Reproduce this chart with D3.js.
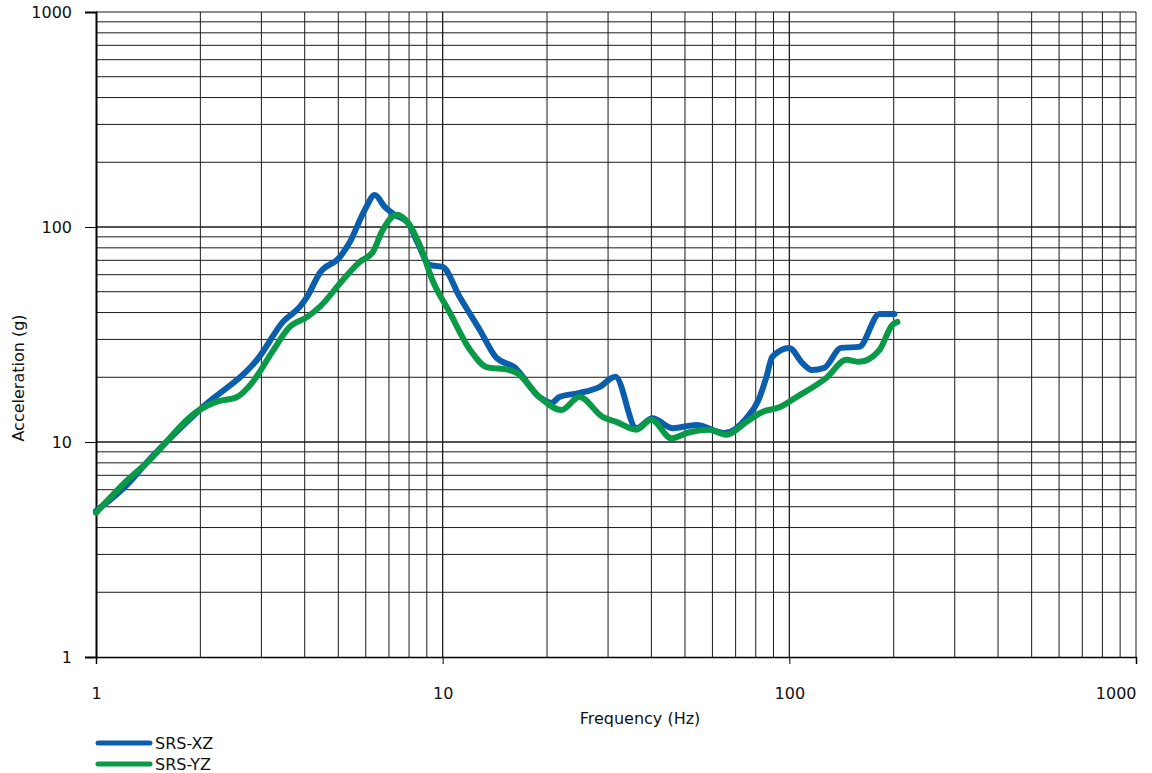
<!DOCTYPE html>
<html><head><meta charset="utf-8">
<script src="https://cdn.jsdelivr.net/npm/d3@7"></script>
<style>
html,body{margin:0;padding:0;background:#fff;}
text{font-family:"DejaVu Sans",sans-serif;fill:#111;}
</style></head>
<body>
<svg id="chart" width="1152" height="773"></svg>
<script>
const xTicks = [1, 10, 100, 1000];
const yTicks = [1, 10, 100, 1000];
const seriesNames = ["SRS-XZ", "SRS-YZ"];
const seriesColors = ["#0B5EAB", "#0A9A47"];

// SRS-XZ: frequency (Hz), acceleration (g)
const xzFreq = [1.00,1.25,1.38,1.99,2.97,3.46,3.87,4.06,4.42,5.05,5.40,5.96,6.37,6.81,7.27,7.93,8.47,9.17,10.0,11.2,12.8,14.3,16.1,19.0,20.6,21.7,24.8,28.3,31.5,36.2,40.3,46.0,54.0,65.0,75.2,81.9,85.9,89.3,100,109,116,126,141,159,182,201];
const xzAcc  = [4.78,6.51,7.82,14.1,25.1,36.2,42.5,47.2,61.1,72.5,85.2,120,141,124,114,105,84.3,66.6,65.2,47.2,33.2,24.6,22.3,16.2,15.2,16.2,16.9,18.0,20.1,11.6,12.9,11.6,12.0,11.0,12.9,16.0,20.1,24.9,27.4,23.3,21.6,22.1,27.4,27.7,39.4,39.4];

// SRS-YZ
const yzFreq = [1.00,1.25,1.38,1.99,2.23,2.55,2.83,3.22,3.62,4.06,4.42,5.15,5.76,6.29,6.67,7.37,7.93,8.70,9.29,10.5,12.0,13.4,15.6,16.4,19.0,22.0,24.8,28.9,31.7,36.2,40.0,45.7,51.5,58.8,65.8,75.2,83.6,93.6,105,128,146,159,182,198,205];
const yzAcc  = [4.68,6.80,7.82,14.1,15.4,16.2,19.0,26.2,34.3,38.1,42.5,56.7,68.8,76.5,94.8,114,105,78.2,57.9,39.8,26.8,22.3,21.6,20.9,16.2,14.1,16.2,13.1,12.4,11.4,12.7,10.4,11.1,11.4,10.8,12.4,13.8,14.5,16.2,19.9,24.1,23.6,26.8,35.0,36.2];

const svg = d3.select("#chart");
const L = 96, R = 1136, T = 12, B = 657;
const x = d3.scaleLog().domain([1, 1000]).range([L, R]);
const y = d3.scaleLog().domain([1, 1000]).range([B, T]);

// grid
const minor = [];
for (const d of [1, 10, 100]) for (let k = 1; k <= 10; k++) minor.push(d * k);
const grid = svg.append("g");
grid.selectAll("line.v").data(minor.filter(v => v > 1 && v <= 1000)).join("line")
  .attr("x1", d => x(d)).attr("x2", d => x(d)).attr("y1", T).attr("y2", B)
  .attr("stroke", "#1a1a1a").attr("stroke-width", 1);
grid.selectAll("line.h").data(minor.filter(v => v > 1 && v <= 1000)).join("line")
  .attr("y1", d => y(d)).attr("y2", d => y(d)).attr("x1", L).attr("x2", R)
  .attr("stroke", "#1a1a1a").attr("stroke-width", 1);

// axes
const yAxis = d3.axisLeft(y).tickValues(yTicks).tickFormat(d3.format("d")).tickSize(11).tickPadding(13);
const gy = svg.append("g").attr("transform", `translate(${L},0)`).call(yAxis);
gy.select(".domain").attr("stroke", "#000").attr("stroke-width", 2);
gy.selectAll(".tick line").attr("stroke", "#000");
gy.selectAll(".tick text").style("font-size", "16px").attr("fill", "#111");

const xAxis = d3.axisBottom(x).tickValues(xTicks).tickFormat(d3.format("d")).tickSize(7).tickPadding(24);
const gx = svg.append("g").attr("transform", `translate(0,${B})`).call(xAxis);
gx.select(".domain").attr("stroke", "#000").attr("stroke-width", 1.5);
gx.selectAll(".tick line").attr("stroke", "#000");
gx.selectAll(".tick text").style("font-size", "16px").attr("fill", "#111")
  .attr("text-anchor", d => d === 1000 ? "end" : "middle");

// axis titles
svg.append("text").attr("x", 640).attr("y", 724).attr("text-anchor", "middle")
  .style("font-size", "16px").text("Frequency (Hz)");
svg.append("text").attr("transform", "translate(24,378) rotate(-90)").attr("text-anchor", "middle")
  .style("font-size", "16px").text("Acceleration (g)");

// lines
const line = d3.line().curve(d3.curveMonotoneX).x(d => x(d[0])).y(d => y(d[1]));
const series = [d3.zip(xzFreq, xzAcc), d3.zip(yzFreq, yzAcc)];
svg.append("path").datum(series[0]).attr("d", line).attr("fill", "none")
  .attr("stroke", seriesColors[0]).attr("stroke-width", 6).attr("stroke-linejoin", "round").attr("stroke-linecap", "round");
svg.append("path").datum(series[1]).attr("d", line).attr("fill", "none")
  .attr("stroke", seriesColors[1]).attr("stroke-width", 6).attr("stroke-linejoin", "round").attr("stroke-linecap", "round");

// legend
const lg = svg.append("g");
seriesNames.forEach((n, i) => {
  const yy = 743 + i * 21;
  lg.append("line").attr("x1", 98).attr("x2", 150).attr("y1", yy).attr("y2", yy)
    .attr("stroke", seriesColors[i]).attr("stroke-width", 5).attr("stroke-linecap", "round");
  lg.append("text").attr("x", 155).attr("y", yy).attr("dy", "0.36em")
    .style("font-size", "16px").text(n);
});
</script>
</body></html>
